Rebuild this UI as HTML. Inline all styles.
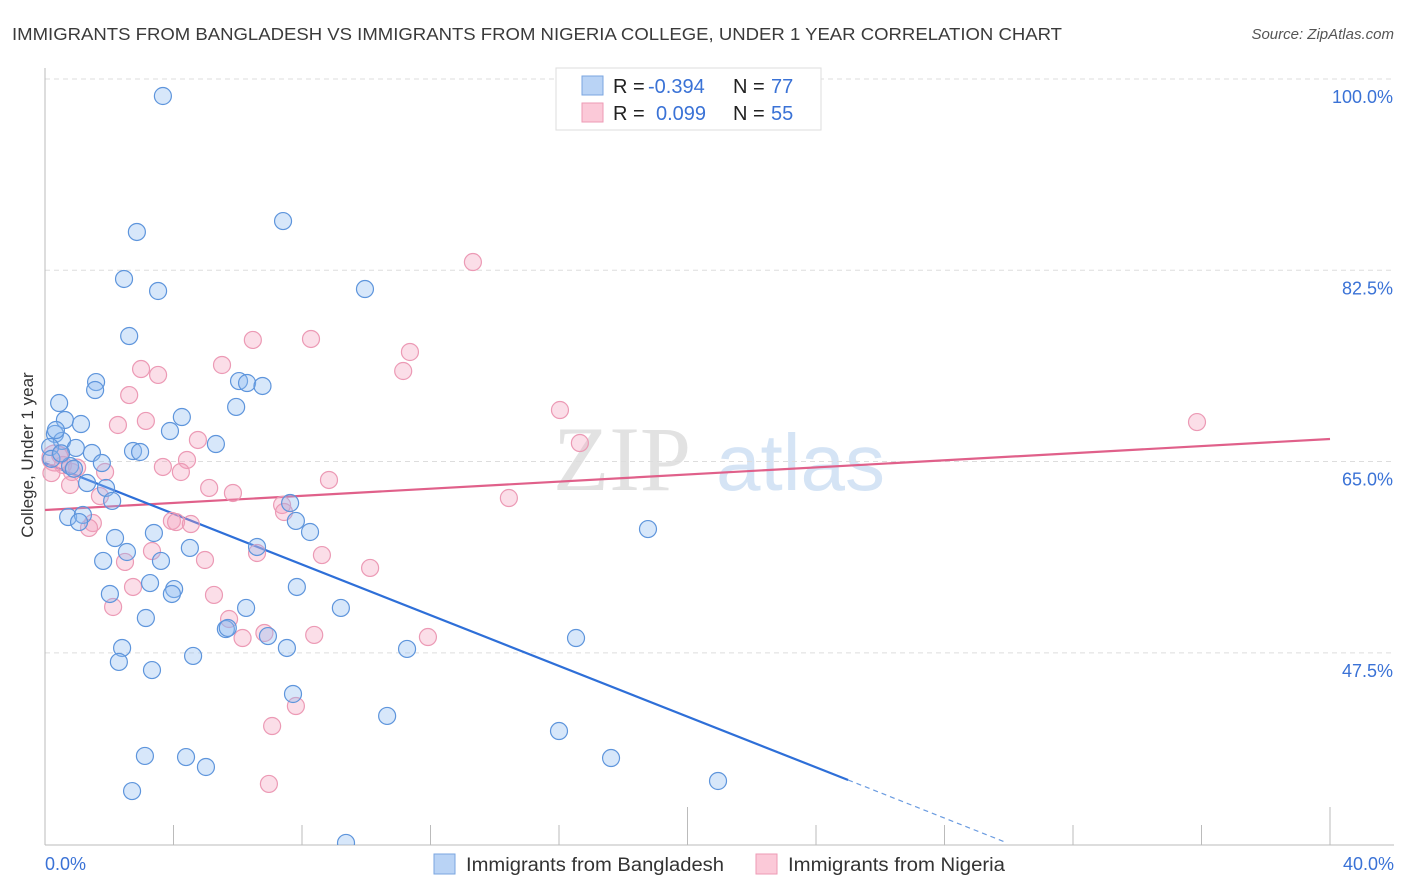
<!DOCTYPE html>
<html><head><meta charset="utf-8"><style>
body{margin:0;background:#fff;font-family:"Liberation Sans",sans-serif;}
svg{display:block}
</style></head><body>
<svg id="chart" width="1406" height="892">
<text x="12" y="40" font-size="17.5" fill="#3a3a3a" textLength="1050" lengthAdjust="spacingAndGlyphs">IMMIGRANTS FROM BANGLADESH VS IMMIGRANTS FROM NIGERIA COLLEGE, UNDER 1 YEAR CORRELATION CHART</text>
<text x="1394" y="39" font-size="15" fill="#555" font-style="italic" text-anchor="end">Source: ZipAtlas.com</text>
<g>
<text x="553" y="490" font-size="92" font-family="Liberation Serif,serif" fill="#e2e2e2">ZIP</text>
<text x="716" y="490" font-size="80" fill="#d5e4f5">atlas</text>
</g>
<g id="grid"></g>
<g id="axes"></g>
<g id="trends"></g>
<g id="points"></g>
<text x="33" y="455" font-size="17" fill="#333" transform="rotate(-90 33 455)" text-anchor="middle">College, Under 1 year</text>
<g>
<rect x="556" y="68" width="265" height="62" fill="#fff" stroke="#ddd"/>
<rect x="582" y="76" width="21" height="19" fill="#b9d3f5" stroke="#7aa6e0"/>
<rect x="582" y="103" width="21" height="19" fill="#fbc9d8" stroke="#ee9ab5"/>
<text x="613" y="93" font-size="20" fill="#222">R = <tspan x="648" fill="#3a72d6">-0.394</tspan><tspan x="733">N = </tspan><tspan x="771" fill="#3a72d6">77</tspan></text>
<text x="613" y="120" font-size="20" fill="#222">R = <tspan x="656" fill="#3a72d6">0.099</tspan><tspan x="733">N = </tspan><tspan x="771" fill="#3a72d6">55</tspan></text>
</g>
<g>
<rect x="434" y="854" width="21" height="20" fill="#b9d3f5" stroke="#7aa6e0"/>
<text x="466" y="871" font-size="19" fill="#333" textLength="258" lengthAdjust="spacingAndGlyphs">Immigrants from Bangladesh</text>
<rect x="756" y="854" width="21" height="20" fill="#fbc9d8" stroke="#ee9ab5"/>
<text x="788" y="871" font-size="19" fill="#333" textLength="217" lengthAdjust="spacingAndGlyphs">Immigrants from Nigeria</text>
</g>
</svg>
<script>
const yTicks=[100,82.5,65,47.5];
const yTickLabels=["100.0%","82.5%","65.0%","47.5%"];
const xTickLabels=["0.0%","40.0%"];
const blueX=[3.67,7.41,2.86,2.46,3.52,9.96,2.62,1.59,1.56,6.04,6.29,6.77,5.95,0.44,4.26,0.62,1.12,3.89,0.31,0.53,5.32,0.96,1.46,2.74,2.96,1.77,0.16,0.78,1.31,1.90,2.09,7.63,7.81,0.72,1.18,1.06,8.25,3.39,2.18,6.60,4.51,2.55,1.81,3.61,3.27,4.02,7.84,2.02,3.95,6.26,9.21,3.14,5.63,5.69,6.94,16.53,2.40,7.53,11.27,2.30,4.61,3.33,7.72,10.65,16.00,3.11,4.39,5.01,17.62,20.95,2.71,9.37,18.77,0.34,0.2,0.5,0.9];
const blueY=[100,88.56,87.56,83.26,82.16,82.34,78.04,73.83,73.10,73.92,73.74,73.47,71.55,71.91,70.63,70.36,69.99,69.35,69.08,68.44,68.16,67.80,67.34,67.52,67.43,66.42,67.89,66.15,64.59,64.14,62.95,62.76,61.12,61.48,61.67,61.02,60.11,60.02,59.56,58.74,58.65,58.28,57.46,57.46,55.44,54.89,55.08,54.44,54.44,53.16,53.16,52.24,51.23,51.33,50.59,50.41,49.50,49.50,49.41,48.22,48.77,47.48,45.29,43.28,41.90,39.62,39.52,38.61,39.43,37.33,36.41,31.66,60.38,69.44,66.8,67.3,65.9];
const pinkX=[13.32,6.47,8.28,11.36,5.51,2.99,11.15,3.52,2.62,16.03,3.14,2.27,35.86,16.65,4.76,4.42,3.67,4.23,1.87,0.47,0.56,0.84,0.78,8.84,5.11,5.85,1.71,14.44,7.38,7.44,1.49,1.37,3.95,4.08,4.54,3.33,6.60,8.62,4.98,2.49,10.12,2.74,5.26,2.12,5.73,6.83,6.15,8.38,11.92,7.81,7.07,6.97,0.31,1.0,0.2];
const pinkY=[84.81,77.68,77.77,76.58,75.39,75.02,74.84,74.48,72.64,71.27,70.27,69.90,70.17,68.25,68.53,66.70,66.06,65.60,65.60,67.15,66.24,65.60,64.41,64.87,64.14,63.68,63.40,63.22,62.58,61.94,60.93,60.48,61.12,61.02,60.84,58.37,58.19,58.00,57.55,57.37,56.82,55.08,54.35,53.25,52.15,50.87,50.41,50.69,50.50,44.19,42.36,37.06,66.88,66.0,65.5];
const blueTrend=[[0,66.42],[25,37.42]];
const blueTrendExt=[[25,37.42],[29.88,31.75]];
const pinkTrend=[[0,62.12],[40,68.62]];

const NS="http://www.w3.org/2000/svg";
const X=v=>45+v*32.125;
const Y=v=>96+(100-v)*10.93;
function mk(tag,attrs,parent){const e=document.createElementNS(NS,tag);for(const k in attrs)e.setAttribute(k,attrs[k]);parent.appendChild(e);return e;}
const grid=document.getElementById('grid'),axes=document.getElementById('axes'),tr=document.getElementById('trends'),pts=document.getElementById('points');
yTicks.forEach((t,i)=>{
 const l=mk('line',{x1:45,x2:1394,y1:Y(t)-17,y2:Y(t)-17,stroke:'#ddd','stroke-dasharray':'5,4'},grid);
 
 
 const tx=mk('text',{x:1393,y:Y(t)+7,'font-size':18,fill:'#3a72d6','text-anchor':'end'},axes);
 tx.textContent=yTickLabels[i];
 
 
});
let a=mk('line',{x1:45,x2:45,y1:68,y2:845,stroke:'#bbb'},axes);


a=mk('line',{x1:45,x2:1394,y1:845,y2:845,stroke:'#bbb'},axes);


for(let i=1;i<=10;i++){
 const t=mk('line',{x1:X(i*4),x2:X(i*4),y1:(i==5||i==10)?807:825,y2:845,stroke:'#bbb'},axes);
 
 
}
[[0,'start',45],[40,'end',1394]].forEach((d,i)=>{
 const t=mk('text',{x:d[2],y:870,'font-size':18,fill:'#3a72d6','text-anchor':d[1]},axes);
 t.textContent=xTickLabels[i];
 
 
});
mk('clipPath',{id:'clip'},pts).appendChild(document.createElementNS(NS,'rect'));
const cr=pts.querySelector('rect');cr.setAttribute('x',0);cr.setAttribute('y',0);cr.setAttribute('width',1406);cr.setAttribute('height',845);
pinkX.forEach((x,i)=>{
 const c=mk('circle',{cx:X(x),cy:Y(pinkY[i]),r:i==52?13:8.5,fill:'rgba(244,160,190,0.35)',stroke:'#ec9ab5','stroke-width':1.2,'clip-path':'url(#clip)'},pts);
 
 
});
blueX.forEach((x,i)=>{
 const c=mk('circle',{cx:X(x),cy:Y(blueY[i]),r:8.5,fill:'rgba(140,185,240,0.35)',stroke:'#5e95dc','stroke-width':1.2,'clip-path':'url(#clip)'},pts);
 
 
});
let l=mk('line',{x1:X(pinkTrend[0][0]),y1:Y(pinkTrend[0][1]),x2:X(pinkTrend[1][0]),y2:Y(pinkTrend[1][1]),stroke:'#e0608a','stroke-width':2.2},tr);


l=mk('line',{x1:X(blueTrend[0][0]),y1:Y(blueTrend[0][1]),x2:X(blueTrend[1][0]),y2:Y(blueTrend[1][1]),stroke:'#2e6fd8','stroke-width':2.2},tr);


l=mk('line',{x1:X(blueTrendExt[0][0]),y1:Y(blueTrendExt[0][1]),x2:X(blueTrendExt[1][0]),y2:Y(blueTrendExt[1][1]),stroke:'#6a9be0','stroke-width':1.2,'stroke-dasharray':'5,4'},tr);


</script>
</body></html>
